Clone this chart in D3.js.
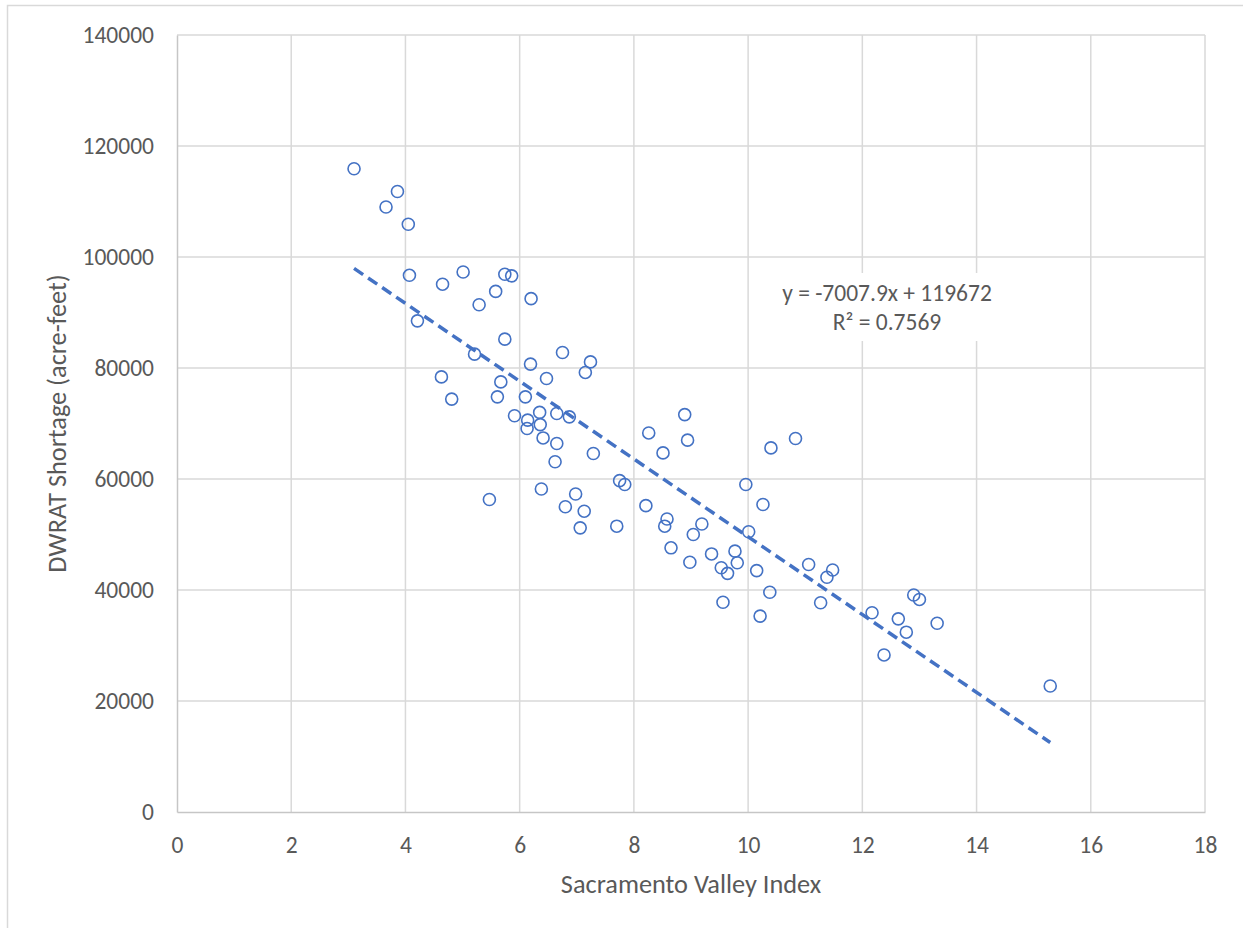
<!DOCTYPE html>
<html>
<head>
<meta charset="utf-8">
<script src="https://cdn.jsdelivr.net/npm/d3@7"></script>
<style>
  body { margin: 0; background: #fff; }
  text { font-family: Carlito, Lato, "Open Sans", sans-serif; fill: #595959; }
</style>
</head>
<body>
<div id="chart"></div>
<script>
// Sacramento Valley Index (x) vs DWRAT shortage in acre-feet (y)
const svIndex = [
  3.10, 3.86, 3.66, 4.05, 4.07, 4.65, 5.01, 5.74, 5.86, 5.58,
  5.29, 6.20, 4.21, 5.74, 5.21, 6.75, 6.19, 7.24, 7.15, 6.47,
  4.63, 5.67, 4.81, 5.61, 6.10, 5.91, 6.35, 6.65, 6.87, 6.14,
  6.36, 6.13, 6.41, 6.65, 6.62, 7.29, 8.26, 8.89, 8.94, 8.51,
  5.47, 6.38, 6.98, 6.80, 7.13, 7.06, 7.75, 7.84, 7.70, 8.21,
  8.58, 8.54, 8.65, 8.98, 9.04, 10.40, 10.83, 9.96, 10.26, 9.19,
  10.01, 9.36, 9.77, 9.81, 9.53, 9.64, 10.15, 10.38, 9.56, 10.21,
  11.06, 11.48, 11.38, 11.27, 12.17, 12.90, 13.00, 12.63, 13.31, 12.77,
  12.38, 15.29
];
const shortage = [
  115900, 111800, 109000, 105900, 96700, 95100, 97300, 96900, 96600, 93800,
  91400, 92500, 88500, 85200, 82500, 82800, 80700, 81100, 79200, 78100,
  78400, 77500, 74400, 74800, 74800, 71400, 72000, 71800, 71200, 70600,
  69800, 69100, 67400, 66400, 63100, 64600, 68300, 71600, 67000, 64700,
  56300, 58200, 57300, 55000, 54200, 51200, 59700, 59000, 51500, 55200,
  52800, 51500, 47600, 45000, 50000, 65600, 67300, 59000, 55400, 51900,
  50500, 46500, 47000, 44900, 44000, 43000, 43500, 39600, 37800, 35300,
  44600, 43600, 42300, 37700, 35900, 39100, 38300, 34800, 34000, 32400,
  28300, 22700
];
const xTicks = [0, 2, 4, 6, 8, 10, 12, 14, 16, 18];
const yTicks = [0, 20000, 40000, 60000, 80000, 100000, 120000, 140000];
const trendSlope = -7007.9;
const trendIntercept = 119672;
const trendLabels = ["y = -7007.9x + 119672", "R\u00b2 = 0.7569"];
const xTitle = "Sacramento Valley Index";
const yTitle = "DWRAT Shortage (acre-feet)";

const dims = {
  width: 1243,
  height: 928,
  margin: { top: 35, right: 38, bottom: 116, left: 177 }
};
dims.innerW = dims.width - dims.margin.left - dims.margin.right;
dims.innerH = dims.height - dims.margin.top - dims.margin.bottom;

const points = svIndex.map((x, i) => ({ x, y: shortage[i] }));

const svg = d3.select("#chart").append("svg")
  .attr("width", dims.width)
  .attr("height", dims.height);

// outer chart-area border
svg.append("rect")
  .attr("x", 7.5).attr("y", 5.5)
  .attr("width", dims.width).attr("height", dims.height)
  .attr("fill", "none")
  .attr("stroke", "#d9d9d9")
  .attr("stroke-width", 1.5);

const g = svg.append("g")
  .attr("transform", `translate(${dims.margin.left},${dims.margin.top})`);

const xScale = d3.scaleLinear().domain([0, 18]).range([0, dims.innerW]);
const yScale = d3.scaleLinear().domain([0, 140000]).range([dims.innerH, 0]);

// gridlines
g.append("g")
  .selectAll("line.v")
  .data(xTicks.slice(1))
  .join("line")
  .attr("x1", d => xScale(d)).attr("x2", d => xScale(d))
  .attr("y1", 0).attr("y2", dims.innerH)
  .attr("stroke", "#d9d9d9").attr("stroke-width", 1.5);

g.append("g")
  .selectAll("line.h")
  .data(yTicks.slice(1))
  .join("line")
  .attr("x1", 0).attr("x2", dims.innerW)
  .attr("y1", d => yScale(d)).attr("y2", d => yScale(d))
  .attr("stroke", "#d9d9d9").attr("stroke-width", 1.5);

// axes
const xAxis = g.append("g")
  .attr("transform", `translate(0,${dims.innerH})`)
  .call(d3.axisBottom(xScale).tickValues(xTicks).tickSize(0).tickPadding(24));
const yAxis = g.append("g")
  .call(d3.axisLeft(yScale).tickValues(yTicks).tickSize(0).tickPadding(23).tickFormat(d3.format("d")));

[xAxis, yAxis].forEach(ax => {
  ax.select(".domain").attr("stroke", "#c6c6c6").attr("stroke-width", 1.5);
  ax.selectAll("text")
    .attr("font-family", "Carlito, Lato, sans-serif")
    .attr("font-size", 23.5)
    .attr("fill", "#595959");
});

// axis titles
svg.append("text")
  .attr("x", dims.margin.left + dims.innerW / 2)
  .attr("y", 893)
  .attr("text-anchor", "middle")
  .attr("font-size", 26.3)
  .text(xTitle);

svg.append("text")
  .attr("transform", `translate(66,${dims.margin.top + dims.innerH / 2}) rotate(-90)`)
  .attr("text-anchor", "middle")
  .attr("font-size", 26.3)
  .text(yTitle);

// trendline
const xExt = d3.extent(svIndex);
g.append("line")
  .attr("x1", xScale(xExt[0]))
  .attr("y1", yScale(trendSlope * xExt[0] + trendIntercept))
  .attr("x2", xScale(xExt[1]))
  .attr("y2", yScale(trendSlope * xExt[1] + trendIntercept))
  .attr("stroke", "#4472c4")
  .attr("stroke-width", 3.5)
  .attr("stroke-dasharray", "11,6");

// points
g.append("g")
  .selectAll("circle")
  .data(points)
  .join("circle")
  .attr("cx", d => xScale(d.x))
  .attr("cy", d => yScale(d.y))
  .attr("r", 6)
  .attr("fill", "none")
  .attr("stroke", "#4472c4")
  .attr("stroke-width", 1.6);

// trendline label
const labelX = 887;
svg.append("rect")
  .attr("x", 772).attr("y", 273)
  .attr("width", 230).attr("height", 68)
  .attr("fill", "#fff");

svg.append("g")
  .selectAll("text")
  .data(trendLabels)
  .join("text")
  .attr("x", labelX)
  .attr("y", (d, i) => 301 + i * 28.5)
  .attr("text-anchor", "middle")
  .attr("font-size", 23.5)
  .text(d => d);
</script>
</body>
</html>
